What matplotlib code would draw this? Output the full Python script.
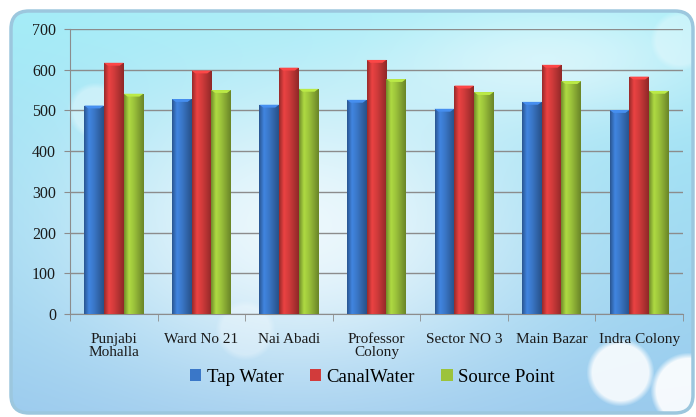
import numpy as np
import matplotlib.pyplot as plt
from matplotlib.patches import FancyBboxPatch
from matplotlib.colors import to_rgb

# data
categories = ['Punjabi\nMohalla', 'Ward No 21', 'Nai Abadi', 'Professor\nColony',
              'Sector NO 3', 'Main Bazar', 'Indra Colony']
tap_water = [512, 528, 514, 526, 504, 521, 501]
canal_water = [617, 598, 605, 624, 561, 612, 583]
source_point = [541, 550, 553, 577, 545, 572, 548]
series_names = ['Tap Water', 'CanalWater', 'Source Point']
yticks = [0, 100, 200, 300, 400, 500, 600, 700]

colors = ['#3a77c8', '#d23b3b', '#9cc33b']

plt.rcParams['font.family'] = 'serif'
plt.rcParams['font.serif'] = ['Liberation Serif', 'Times New Roman', 'DejaVu Serif']

W, H = 696, 417
fig = plt.figure(figsize=(W / 100, H / 100), dpi=100)
fig.patch.set_facecolor('white')

# background panel with soft gradient and light spots
bg = fig.add_axes([0, 0, 1, 1], zorder=-10)
bg.set_xlim(0, W)
bg.set_ylim(H, 0)
bg.axis('off')

yy, xx = np.mgrid[0:H, 0:W]
top = np.array([0.64, 0.93, 0.97])
bottom = np.array([0.60, 0.79, 0.93])
t = (yy / H)[..., None]
img = top * (1 - t) + bottom * t
glow = np.exp(-(((xx - 300) / 230.0) ** 2 + ((yy - 230) / 150.0) ** 2))
glow2 = np.exp(-(((xx - 560) / 160.0) ** 2 + ((yy - 60) / 60.0) ** 2)) * 0.5
wmix = np.clip(0.8 * glow + glow2, 0, 0.9)[..., None]
img = img * (1 - wmix) + wmix
for cx, cy, r, a in [(620, 372, 34, 0.85), (688, 390, 38, 0.9), (95, 110, 28, 0.35),
                     (245, 330, 30, 0.3), (680, 40, 30, 0.3)]:
    d = np.sqrt((xx - cx) ** 2 + (yy - cy) ** 2)
    m = (np.clip((r - d) / 6.0, 0, 1) * a)[..., None]
    img = img * (1 - m) + m

panel = FancyBboxPatch((11, 11), 682, 402, boxstyle='round,pad=0,rounding_size=18',
                       facecolor='none', edgecolor='#9cc7de', linewidth=2.5)
bg.add_patch(panel)
im = bg.imshow(img, extent=(0, W, H, 0), zorder=0)
im.set_clip_path(panel)

# chart
ax = fig.add_axes([70 / W, 1 - 314 / H, (683 - 70) / W, (314 - 29) / H])
ax.set_facecolor('none')

x = np.arange(len(categories))
width = 0.225
all_series = [tap_water, canal_water, source_point]
shade = np.interp(np.linspace(0, 1, 64), [0, 0.25, 0.5, 1], [0.72, 1.12, 1.0, 0.68])
for i, vals in enumerate(all_series):
    bars = ax.bar(x + (i - 1) * width, vals, width, color=colors[i], label=series_names[i],
                  edgecolor='none', zorder=3)
    base = np.array(to_rgb(colors[i]))
    grad = np.clip(base[None, None, :] * shade[None, :, None], 0, 1)
    for b in bars:
        x0 = b.get_x()
        gi = ax.imshow(grad, extent=(x0, x0 + b.get_width(), 0, b.get_height()),
                       aspect='auto', zorder=3, interpolation='bilinear')
        gi.set_clip_path(b)
        # bevelled top
        ax.fill([x0, x0 + b.get_width(), x0 + b.get_width() * 0.8, x0 + b.get_width() * 0.2],
                [b.get_height(), b.get_height(), b.get_height() - 7, b.get_height() - 7],
                color=np.clip(base * 1.2, 0, 1), zorder=4, lw=0)

ax.set_xlim(-0.5, len(categories) - 0.5)
ax.set_ylim(0, 700)
ax.set_yticks(yticks)
ax.yaxis.grid(True, color='#8c8c8c', linewidth=1)
ax.set_axisbelow(True)
ax.set_xticks(x)
ax.set_xticklabels(categories, fontsize=11, color='#1a1a1a', linespacing=1.0)
ax.set_xticks(np.arange(len(categories) + 1) - 0.5, minor=True)
ax.tick_params(axis='x', which='major', length=0, pad=14)
ax.tick_params(axis='x', which='minor', length=5, color='#8c8c8c')
ax.tick_params(axis='y', length=4, color='#8c8c8c', labelsize=11.5, labelcolor='#1a1a1a', pad=6)
for s in ['top', 'right']:
    ax.spines[s].set_visible(False)
for s in ['left', 'bottom']:
    ax.spines[s].set_color('#8c8c8c')

fig.legend(loc='center', bbox_to_anchor=(0.535, 1 - 377 / H), ncol=3, frameon=False,
           fontsize=13.5, handlelength=0.6, handleheight=0.6, handletextpad=0.3,
           columnspacing=1.4)

fig.savefig('out.png', dpi=100)
